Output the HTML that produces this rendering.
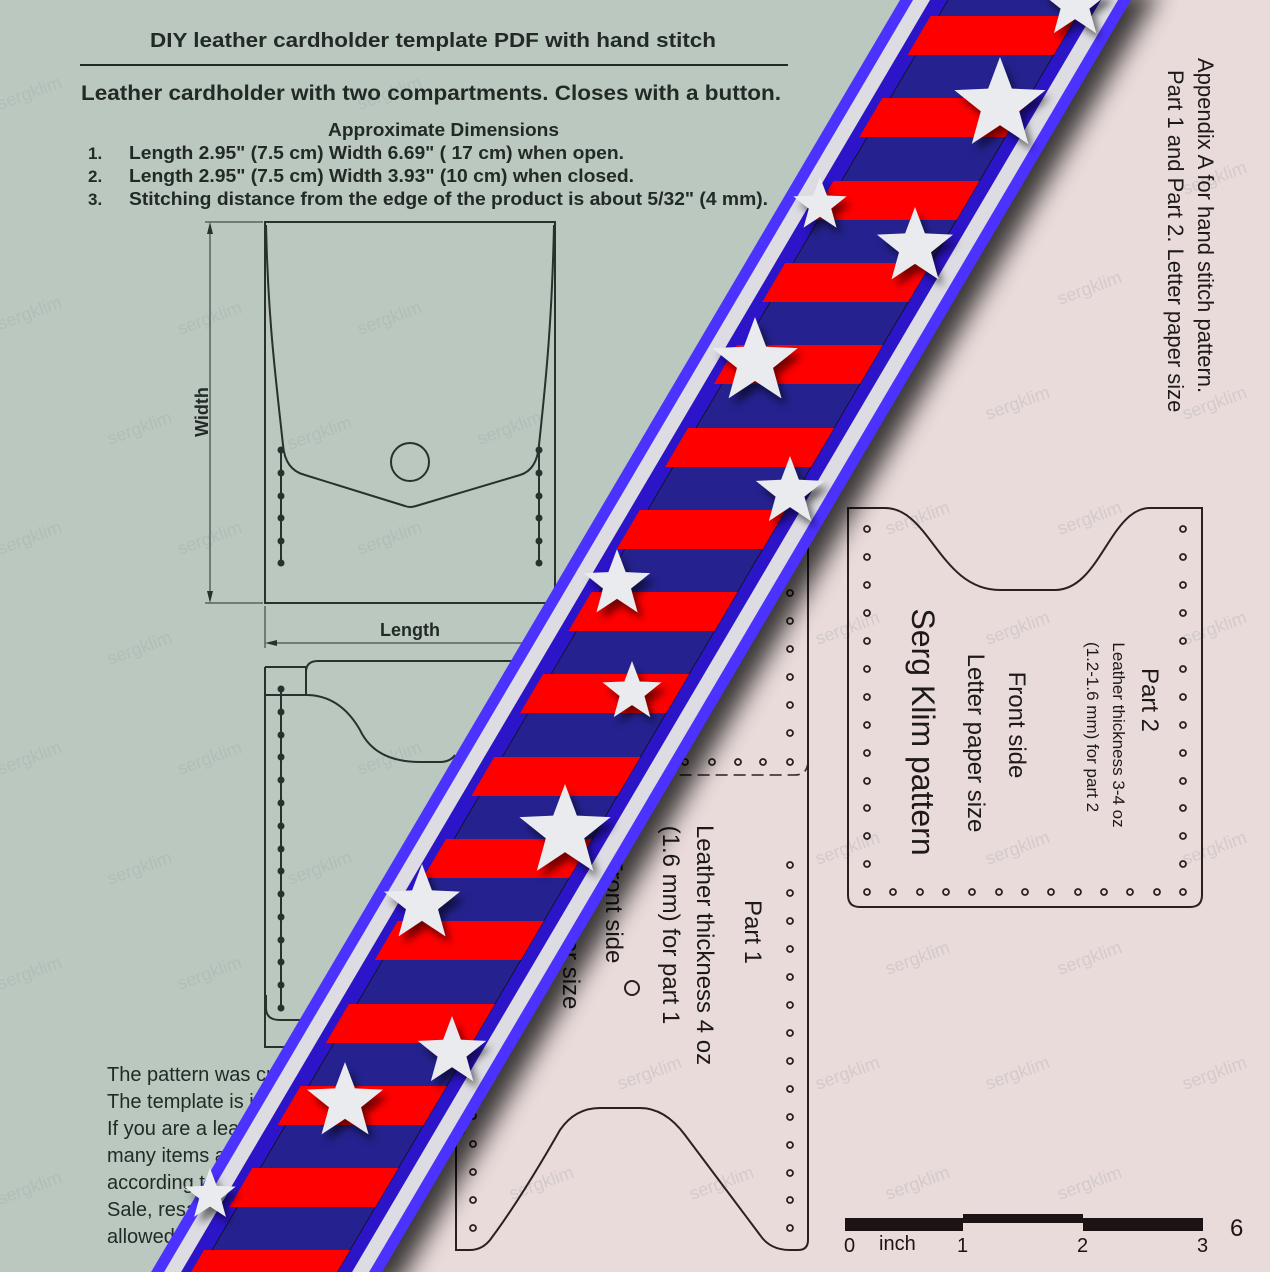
<!DOCTYPE html>
<html><head><meta charset="utf-8"><style>
html,body{margin:0;padding:0;background:#e9dbda;}
svg{display:block;font-family:"Liberation Sans",sans-serif;}
</style></head><body>
<svg width="1270" height="1272" viewBox="0 0 1270 1272" xmlns="http://www.w3.org/2000/svg">
<defs>
<path id="st" d="M0,-1 L0.247,-0.34 L0.951,-0.309 L0.399,0.13 L0.588,0.809 L0,0.42 L-0.588,0.809 L-0.399,0.13 L-0.951,-0.309 L-0.247,-0.34 Z"/>
<clipPath id="rc"><polygon points="945.9,-10 1091.9,-10 326.5,1290 180.5,1290"/></clipPath>
<filter id="blur" x="-20%" y="-20%" width="140%" height="140%"><feGaussianBlur stdDeviation="12"/></filter>
<filter id="ds" x="-20%" y="-20%" width="140%" height="140%"><feDropShadow dx="5" dy="7" stdDeviation="4" flood-color="#000" flood-opacity="0.55"/></filter>
</defs>
<rect width="1270" height="1272" fill="#e9dbda"/>
<polygon points="0,0 1005.9,-10 240.5,1290 0,1272" fill="#bac8c0"/>

<!-- watermarks -->
<g fill="#9fa8a4" opacity="0.3" font-size="18">
<text transform="translate(0,110) rotate(-20)">sergklim</text>
<text transform="translate(360,110) rotate(-20)">sergklim</text>
<text transform="translate(0,330) rotate(-20)">sergklim</text>
<text transform="translate(180,335) rotate(-20)">sergklim</text>
<text transform="translate(360,335) rotate(-20)">sergklim</text>
<text transform="translate(110,445) rotate(-20)">sergklim</text>
<text transform="translate(290,450) rotate(-20)">sergklim</text>
<text transform="translate(480,445) rotate(-20)">sergklim</text>
<text transform="translate(0,555) rotate(-20)">sergklim</text>
<text transform="translate(180,555) rotate(-20)">sergklim</text>
<text transform="translate(360,555) rotate(-20)">sergklim</text>
<text transform="translate(110,665) rotate(-20)">sergklim</text>
<text transform="translate(0,775) rotate(-20)">sergklim</text>
<text transform="translate(180,775) rotate(-20)">sergklim</text>
<text transform="translate(360,775) rotate(-20)">sergklim</text>
<text transform="translate(110,885) rotate(-20)">sergklim</text>
<text transform="translate(290,885) rotate(-20)">sergklim</text>
<text transform="translate(0,990) rotate(-20)">sergklim</text>
<text transform="translate(180,990) rotate(-20)">sergklim</text>
<text transform="translate(0,1205) rotate(-20)">sergklim</text>
<text transform="translate(1060,305) rotate(-20)">sergklim</text>
<text transform="translate(1185,195) rotate(-20)">sergklim</text>
<text transform="translate(988,420) rotate(-20)">sergklim</text>
<text transform="translate(1185,420) rotate(-20)">sergklim</text>
<text transform="translate(1060,535) rotate(-20)">sergklim</text>
<text transform="translate(888,535) rotate(-20)">sergklim</text>
<text transform="translate(988,645) rotate(-20)">sergklim</text>
<text transform="translate(1185,645) rotate(-20)">sergklim</text>
<text transform="translate(818,645) rotate(-20)">sergklim</text>
<text transform="translate(988,865) rotate(-20)">sergklim</text>
<text transform="translate(818,865) rotate(-20)">sergklim</text>
<text transform="translate(1185,865) rotate(-20)">sergklim</text>
<text transform="translate(888,975) rotate(-20)">sergklim</text>
<text transform="translate(1060,975) rotate(-20)">sergklim</text>
<text transform="translate(818,1090) rotate(-20)">sergklim</text>
<text transform="translate(988,1090) rotate(-20)">sergklim</text>
<text transform="translate(1185,1090) rotate(-20)">sergklim</text>
<text transform="translate(620,1090) rotate(-20)">sergklim</text>
<text transform="translate(888,1200) rotate(-20)">sergklim</text>
<text transform="translate(1060,1200) rotate(-20)">sergklim</text>
<text transform="translate(692,1200) rotate(-20)">sergklim</text>
<text transform="translate(512,1200) rotate(-20)">sergklim</text>
</g>

<!-- left header text -->
<g fill="#232a26" font-weight="bold">
<text x="150" y="47" font-size="20" textLength="566" lengthAdjust="spacingAndGlyphs">DIY leather cardholder template PDF with hand stitch</text>
<text x="81" y="100" font-size="21" textLength="700" lengthAdjust="spacingAndGlyphs">Leather cardholder with two compartments. Closes with a button.</text>
<text x="328" y="136" font-size="18" textLength="231" lengthAdjust="spacingAndGlyphs">Approximate Dimensions</text>
<text x="88" y="159" font-size="17">1.</text>
<text x="129" y="159" font-size="18" textLength="495" lengthAdjust="spacingAndGlyphs">Length 2.95" (7.5 cm) Width 6.69" ( 17 cm) when open.</text>
<text x="88" y="182" font-size="17">2.</text>
<text x="129" y="182" font-size="18" textLength="505" lengthAdjust="spacingAndGlyphs">Length 2.95" (7.5 cm) Width 3.93" (10 cm) when closed.</text>
<text x="88" y="205" font-size="17">3.</text>
<text x="129" y="205" font-size="18" textLength="639" lengthAdjust="spacingAndGlyphs">Stitching distance from the edge of the product is about 5/32" (4 mm).</text>
</g>
<line x1="80" y1="65" x2="788" y2="65" stroke="#232a26" stroke-width="2"/>

<!-- card 1 -->
<g stroke="#2a302c" fill="none" stroke-width="2">
<rect x="265" y="222" width="290" height="381"/>
<path d="M266,225 C268,320 276,380 283,445 Q285,470 305,475 L405,506 Q410,508 416,506 L520,475 Q537,470 539,445 C546,380 552,320 554,225"/>
<circle cx="410" cy="462" r="19"/>
<line x1="281" y1="450" x2="281" y2="563"/>
<line x1="539" y1="450" x2="539" y2="563"/>
</g>
<g fill="#2a302c">
<circle cx="281" cy="450" r="3.5"/><circle cx="281" cy="473" r="3.5"/><circle cx="281" cy="496" r="3.5"/><circle cx="281" cy="518" r="3.5"/><circle cx="281" cy="541" r="3.5"/><circle cx="281" cy="563" r="3.5"/>
<circle cx="539" cy="450" r="3.5"/><circle cx="539" cy="473" r="3.5"/><circle cx="539" cy="496" r="3.5"/><circle cx="539" cy="518" r="3.5"/><circle cx="539" cy="541" r="3.5"/><circle cx="539" cy="563" r="3.5"/>
</g>
<g stroke="#2a302c" stroke-width="1">
<line x1="205" y1="222" x2="263" y2="222"/><line x1="205" y1="603" x2="263" y2="603"/>
<line x1="210" y1="224" x2="210" y2="601"/>
<line x1="265" y1="606" x2="265" y2="648"/>
<line x1="267" y1="643" x2="540" y2="643"/>
</g>
<path d="M210,222 l-3,12 h6 Z M210,603 l-3,-12 h6 Z M265,643 l12,-3 v6 Z" fill="#2a302c"/>
<text transform="translate(208,412) rotate(-90)" text-anchor="middle" font-size="18" font-weight="bold" fill="#232a26">Width</text>
<text x="410" y="636" text-anchor="middle" font-size="18" font-weight="bold" fill="#232a26">Length</text>

<!-- card 2 -->
<g stroke="#2a302c" fill="none" stroke-width="2">
<path d="M265,667 L265,1047 L420,1047"/>
<path d="M265,667 L306,667 L306,695 L265,695"/>
<path d="M306,695 L306,672 Q306,661 318,661 L520,661"/>
<path d="M306,695 Q340,695 360,730 Q375,762 420,762 L440,762 Q450,762 455,755"/>
<path d="M266,995 L266,1008 Q266,1020 280,1020 L420,1020"/>
<line x1="281" y1="689" x2="281" y2="1008"/>
</g>
<g fill="#2a302c">
<circle cx="281" cy="689" r="3.5"/><circle cx="281" cy="712" r="3.5"/><circle cx="281" cy="735" r="3.5"/><circle cx="281" cy="757" r="3.5"/><circle cx="281" cy="780" r="3.5"/><circle cx="281" cy="803" r="3.5"/><circle cx="281" cy="826" r="3.5"/><circle cx="281" cy="849" r="3.5"/><circle cx="281" cy="871" r="3.5"/><circle cx="281" cy="894" r="3.5"/><circle cx="281" cy="917" r="3.5"/><circle cx="281" cy="940" r="3.5"/><circle cx="281" cy="962" r="3.5"/><circle cx="281" cy="985" r="3.5"/><circle cx="281" cy="1008" r="3.5"/>
</g>

<!-- bottom left paragraph -->
<g fill="#232a26" font-size="20">
<text x="107" y="1081">The pattern was created by Serg Klim</text>
<text x="107" y="1108">The template is intended for personal use</text>
<text x="107" y="1135">If you are a leather crafter you can make</text>
<text x="107" y="1162">many items and sell them</text>
<text x="107" y="1189">according to this pattern.</text>
<text x="107" y="1216">Sale, resale and distribution</text>
<text x="107" y="1243">allowed only by the author.</text>
</g>

<!-- right side text -->
<g fill="#1e1a1a" font-size="22">
<text transform="translate(1198,58) rotate(90)">Appendix A for hand stitch pattern.</text>
<text transform="translate(1168,70) rotate(90)">Part 1 and Part 2. Letter paper size</text>
</g>

<!-- Part 2 -->
<g stroke="#2a2020" fill="none" stroke-width="2">
<path d="M848,508 L885,508 C930,508 940,590 1000,590 L1055,590 C1100,590 1110,508 1150,508 L1202,508 L1202,895 Q1202,907 1190,907 L860,907 Q848,907 848,895 Z"/>
</g>
<g stroke="#2a2020" fill="none" stroke-width="1.8">
<g id="colL">
<circle cx="867" cy="529" r="3"/><circle cx="867" cy="557" r="3"/><circle cx="867" cy="585" r="3"/><circle cx="867" cy="613" r="3"/><circle cx="867" cy="641" r="3"/><circle cx="867" cy="669" r="3"/><circle cx="867" cy="697" r="3"/><circle cx="867" cy="725" r="3"/><circle cx="867" cy="753" r="3"/><circle cx="867" cy="781" r="3"/><circle cx="867" cy="808" r="3"/><circle cx="867" cy="836" r="3"/><circle cx="867" cy="864" r="3"/>
</g>
<use href="#colL" transform="translate(316,0)"/>
<circle cx="867" cy="892" r="3"/><circle cx="893" cy="892" r="3"/><circle cx="920" cy="892" r="3"/><circle cx="946" cy="892" r="3"/><circle cx="972" cy="892" r="3"/><circle cx="999" cy="892" r="3"/><circle cx="1025" cy="892" r="3"/><circle cx="1051" cy="892" r="3"/><circle cx="1078" cy="892" r="3"/><circle cx="1104" cy="892" r="3"/><circle cx="1130" cy="892" r="3"/><circle cx="1157" cy="892" r="3"/><circle cx="1183" cy="892" r="3"/>
</g>
<g fill="#1e1a1a">
<text transform="translate(1142,700) rotate(90)" text-anchor="middle" font-size="24">Part 2</text>
<text transform="translate(1113,735) rotate(90)" text-anchor="middle" font-size="17">Leather thickness 3-4 oz</text>
<text transform="translate(1087,727) rotate(90)" text-anchor="middle" font-size="17">(1.2-1.6 mm) for part 2</text>
<text transform="translate(1009,725) rotate(90)" text-anchor="middle" font-size="24">Front side</text>
<text transform="translate(968,743) rotate(90)" text-anchor="middle" font-size="24">Letter paper size</text>
<text transform="translate(912,732) rotate(90)" text-anchor="middle" font-size="32">Serg Klim pattern</text>
</g>

<!-- Part 1 -->
<g stroke="#2a2020" fill="none" stroke-width="2">
<path d="M808,520 L808,1240 Q808,1250 798,1250 L790,1250 Q770,1250 760,1235 L685,1135 Q665,1108 640,1108 L600,1108 Q575,1108 560,1130 Q520,1200 490,1240 Q482,1250 470,1250 L456,1250 L456,1080"/>
<path d="M808,760 Q808,775 795,775 L660,775" stroke-dasharray="12,6" stroke-width="1.5"/>
<circle cx="632" cy="988" r="7"/>
</g>
<g stroke="#2a2020" fill="none" stroke-width="1.8">
<circle cx="790" cy="565" r="3"/><circle cx="790" cy="593" r="3"/><circle cx="790" cy="621" r="3"/><circle cx="790" cy="649" r="3"/><circle cx="790" cy="677" r="3"/><circle cx="790" cy="705" r="3"/><circle cx="790" cy="733" r="3"/><circle cx="790" cy="762" r="3"/>
<circle cx="763" cy="762" r="3"/><circle cx="738" cy="762" r="3"/><circle cx="712" cy="762" r="3"/><circle cx="685" cy="762" r="3"/>
<circle cx="790" cy="865" r="3"/><circle cx="790" cy="893" r="3"/><circle cx="790" cy="921" r="3"/><circle cx="790" cy="949" r="3"/><circle cx="790" cy="977" r="3"/><circle cx="790" cy="1005" r="3"/><circle cx="790" cy="1033" r="3"/><circle cx="790" cy="1061" r="3"/><circle cx="790" cy="1089" r="3"/><circle cx="790" cy="1117" r="3"/><circle cx="790" cy="1145" r="3"/><circle cx="790" cy="1173" r="3"/><circle cx="790" cy="1200" r="3"/><circle cx="790" cy="1228" r="3"/>
<circle cx="473" cy="1116" r="3"/><circle cx="473" cy="1144" r="3"/><circle cx="473" cy="1172" r="3"/><circle cx="473" cy="1200" r="3"/><circle cx="473" cy="1228" r="3"/>
</g>
<g fill="#1e1a1a">
<text transform="translate(745,932) rotate(90)" text-anchor="middle" font-size="24">Part 1</text>
<text transform="translate(697,945) rotate(90)" text-anchor="middle" font-size="24">Leather thickness 4 oz</text>
<text transform="translate(663,925) rotate(90)" text-anchor="middle" font-size="24">(1.6 mm) for part 1</text>
<text transform="translate(606,910) rotate(90)" text-anchor="middle" font-size="24">Front side</text>
<text transform="translate(563,920) rotate(90)" text-anchor="middle" font-size="24">Letter paper size</text>
<text transform="translate(505,900) rotate(90)" text-anchor="middle" font-size="32">Serg Klim pattern</text>
</g>

<!-- scale bar -->
<g fill="#1c1414">
<rect x="845" y="1218" width="118" height="13"/>
<rect x="963" y="1214" width="120" height="9"/>
<rect x="1083" y="1218" width="120" height="13"/>
<text x="844" y="1252" font-size="20">0</text>
<text x="879" y="1250" font-size="20">inch</text>
<text x="957" y="1252" font-size="20">1</text>
<text x="1077" y="1252" font-size="20">2</text>
<text x="1197" y="1252" font-size="20">3</text>
<text x="1230" y="1236" font-size="24">6</text>
</g>

<!-- ribbon shadow -->
<polygon points="1045,-10 1160,-10 394.5,1290 279.5,1290" fill="#000" opacity="0.75" filter="url(#blur)"/>

<!-- ribbon -->
<polygon points="905.9,-10 1136.9,-10 371.5,1290 140.5,1290" fill="#4b32ff"/>
<polygon points="918.9,-10 1123.9,-10 358.5,1290 153.5,1290" fill="#dcdce2"/>
<polygon points="935.9,-10 1106.9,-10 341.5,1290 170.5,1290" fill="#2c14c8"/>
<polygon points="953.9,-10 1091.9,-10 326.5,1290 188.5,1290" fill="#25228f" stroke="#111" stroke-width="0.8"/>
<g clip-path="url(#rc)" fill="#ff0000">
<rect x="0" y="16" width="1270" height="39"/>
<rect x="0" y="98" width="1270" height="39"/>
<rect x="0" y="181" width="1270" height="39"/>
<rect x="0" y="263" width="1270" height="39"/>
<rect x="0" y="345" width="1270" height="39"/>
<rect x="0" y="428" width="1270" height="39"/>
<rect x="0" y="510" width="1270" height="39"/>
<rect x="0" y="592" width="1270" height="39"/>
<rect x="0" y="674" width="1270" height="39"/>
<rect x="0" y="757" width="1270" height="39"/>
<rect x="0" y="839" width="1270" height="39"/>
<rect x="0" y="921" width="1270" height="39"/>
<rect x="0" y="1004" width="1270" height="39"/>
<rect x="0" y="1086" width="1270" height="39"/>
<rect x="0" y="1168" width="1270" height="39"/>
<rect x="0" y="1250" width="1270" height="39"/>
</g>

<!-- stars -->
<g fill="#eaebef" filter="url(#ds)">
<use href="#st" transform="translate(1075,4) scale(36)"/>
<use href="#st" transform="translate(1000,105) scale(48)"/>
<use href="#st" transform="translate(820,205) scale(28)"/>
<use href="#st" transform="translate(915,247) scale(40)"/>
<use href="#st" transform="translate(755,362) scale(45)"/>
<use href="#st" transform="translate(790,492) scale(36)"/>
<use href="#st" transform="translate(617,584) scale(35)"/>
<use href="#st" transform="translate(632,692) scale(31)"/>
<use href="#st" transform="translate(565,832) scale(48)"/>
<use href="#st" transform="translate(422,904) scale(40)"/>
<use href="#st" transform="translate(452,1052) scale(36)"/>
<use href="#st" transform="translate(345,1102) scale(40)"/>
<use href="#st" transform="translate(210,1195) scale(27)"/>
</g>
</svg>
</body></html>
